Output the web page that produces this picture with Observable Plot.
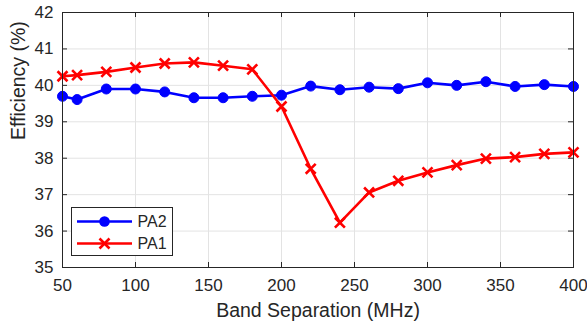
<!DOCTYPE html>
<html>
<head>
<meta charset="utf-8">
<script src="https://cdn.jsdelivr.net/npm/d3@7"></script>
<script src="https://cdn.jsdelivr.net/npm/@observablehq/plot@0.6"></script>
<style>
  html, body { margin: 0; padding: 0; background: #fff; }
  #wrap { position: relative; width: 587px; height: 326px; font-family: "Liberation Sans", Arial, sans-serif; color: #262626; }
  #legend { position: absolute; left: 71px; top: 207px; width: 102px; height: 49px; box-sizing: border-box; border: 1px solid #262626; background: #fff; }
</style>
</head>
<body>
<div id="wrap"></div>
<script>
const separation = [50, 60, 80, 100, 120, 140, 160, 180, 200, 220, 240, 260, 280, 300, 320, 340, 360, 380, 400];
const pa2 = [39.70, 39.61, 39.90, 39.90, 39.82, 39.66, 39.66, 39.70, 39.73, 39.98, 39.88, 39.95, 39.91, 40.07, 40.00, 40.10, 39.97, 40.02, 39.97];
const pa1 = [40.25, 40.28, 40.37, 40.49, 40.60, 40.63, 40.54, 40.44, 39.42, 37.71, 36.23, 37.06, 37.38, 37.61, 37.81, 37.99, 38.03, 38.12, 38.16];
const xTicks = [50, 100, 150, 200, 250, 300, 350, 400];
const yTicks = [35, 36, 37, 38, 39, 40, 41, 42];
const seriesNames = ["PA2", "PA1"];
const seriesColors = ["#0000ff", "#ff0000"];

const d2 = separation.map((x, i) => ({x, y: pa2[i]}));
const d1 = separation.map((x, i) => ({x, y: pa1[i]}));

const W = 587, H = 326, mL = 62, mR = 14, mT = 12, mB = 59;
const innerH = H - mT - mB, innerW = W - mL - mR;
const tk = 5;
const ink = "#262626";

const chart = Plot.plot({
  width: W, height: H,
  marginLeft: mL, marginRight: mR, marginTop: mT, marginBottom: mB,
  style: {fontFamily: '"Liberation Sans", Arial, sans-serif', fontSize: "17px", color: ink, background: "#fff"},
  x: {domain: [50, 400]},
  y: {domain: [35, 42]},
  marks: [
    Plot.gridX(xTicks, {stroke: "#e3e3e3", strokeOpacity: 1}),
    Plot.gridY(yTicks, {stroke: "#e3e3e3", strokeOpacity: 1}),
    Plot.axisX(xTicks, {tickSize: 0, tickPadding: 11, label: null, fontSize: 17, tickFormat: d => d, color: ink}),
    Plot.axisY(yTicks, {tickSize: 0, tickPadding: 9, label: null, fontSize: 17, tickFormat: d => d, color: ink}),
    Plot.tickX(xTicks, {x: d => d, insetTop: innerH - tk, stroke: ink}),
    Plot.tickX(xTicks, {x: d => d, insetBottom: innerH - tk, stroke: ink}),
    Plot.tickY(yTicks, {y: d => d, insetRight: innerW - tk, stroke: ink}),
    Plot.tickY(yTicks, {y: d => d, insetLeft: innerW - tk, stroke: ink}),
    Plot.line(d2, {x: "x", y: "y", stroke: seriesColors[0], strokeWidth: 2.6}),
    Plot.dot(d2, {x: "x", y: "y", r: 5, fill: seriesColors[0], stroke: seriesColors[0], strokeWidth: 1}),
    Plot.line(d1, {x: "x", y: "y", stroke: seriesColors[1], strokeWidth: 2.6}),
    Plot.dot(d1, {x: "x", y: "y", r: 4.6, symbol: "times", stroke: seriesColors[1], strokeWidth: 2.6}),
    Plot.frame({stroke: ink, strokeWidth: 1}),
    Plot.text(["Efficiency (%)"], {frameAnchor: "left", text: d => d, rotate: -90, dx: -44, fontSize: 19.5, fill: ink}),
    Plot.text(["Band Separation (MHz)"], {frameAnchor: "bottom", lineAnchor: "middle", text: d => d, dy: 43, fontSize: 19.5, fill: ink})
  ]
});

const wrap = document.getElementById("wrap");
wrap.appendChild(chart);

// Legend
const leg = document.createElement("div");
leg.id = "legend";
const ns = "http://www.w3.org/2000/svg";
const svg = document.createElementNS(ns, "svg");
svg.setAttribute("width", 100);
svg.setAttribute("height", 47);
svg.style.display = "block";
seriesNames.forEach((name, i) => {
  const cy = 13.5 + i * 22;
  const line = document.createElementNS(ns, "line");
  line.setAttribute("x1", 5); line.setAttribute("x2", 60);
  line.setAttribute("y1", cy); line.setAttribute("y2", cy);
  line.setAttribute("stroke", seriesColors[i]); line.setAttribute("stroke-width", 2.6);
  svg.appendChild(line);
  if (i === 0) {
    const c = document.createElementNS(ns, "circle");
    c.setAttribute("cx", 32.5); c.setAttribute("cy", cy); c.setAttribute("r", 5.3);
    c.setAttribute("fill", seriesColors[i]);
    svg.appendChild(c);
  } else {
    const p = document.createElementNS(ns, "path");
    const s = 5;
    p.setAttribute("d", `M${32.5 - s},${cy - s}L${32.5 + s},${cy + s}M${32.5 - s},${cy + s}L${32.5 + s},${cy - s}`);
    p.setAttribute("stroke", seriesColors[i]); p.setAttribute("stroke-width", 2.6);
    svg.appendChild(p);
  }
  const t = document.createElementNS(ns, "text");
  t.setAttribute("x", 65.5); t.setAttribute("y", cy);
  t.setAttribute("dy", "0.36em");
  t.setAttribute("font-size", 16);
  t.setAttribute("fill", ink);
  t.setAttribute("font-family", '"Liberation Sans", Arial, sans-serif');
  t.textContent = name;
  svg.appendChild(t);
});
leg.appendChild(svg);
wrap.appendChild(leg);
</script>
</body>
</html>
